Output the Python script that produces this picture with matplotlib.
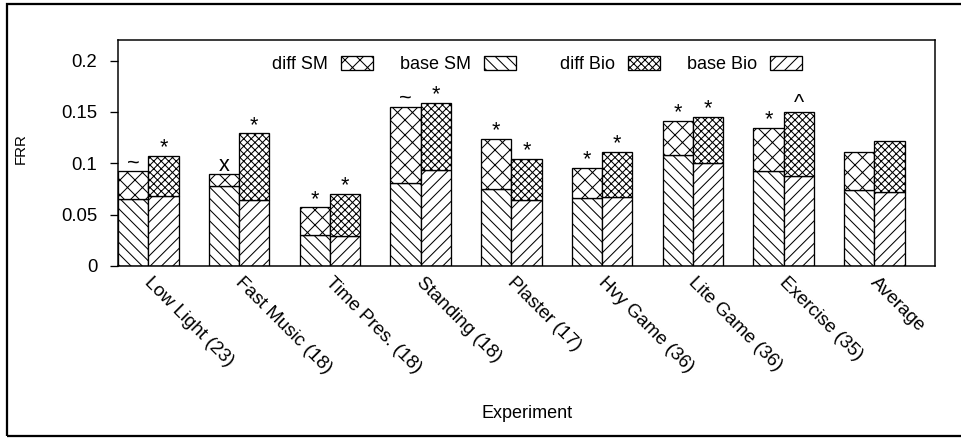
import matplotlib
matplotlib.use('Agg')
import matplotlib.pyplot as plt
import numpy as np
from matplotlib.patches import Rectangle, Patch

plt.rcParams['font.family'] = ['Liberation Sans', 'DejaVu Sans']
plt.rcParams['hatch.linewidth'] = 0.55

experiments = ['Low Light (23)', 'Fast Music (18)', 'Time Pres. (18)', 'Standing (18)',
               'Plaster (17)', 'Hvy Game (36)', 'Lite Game (36)', 'Exercise (35)', 'Average']
base_sm = [0.065, 0.078, 0.030, 0.081, 0.075, 0.066, 0.108, 0.092, 0.074]
total_sm = [0.092, 0.090, 0.057, 0.155, 0.124, 0.0955, 0.141, 0.134, 0.111]
base_bio = [0.068, 0.064, 0.029, 0.093, 0.064, 0.067, 0.100, 0.088, 0.072]
total_bio = [0.107, 0.129, 0.070, 0.159, 0.104, 0.111, 0.145, 0.150, 0.122]
marks_sm = ['~', 'x', '*', '~', '*', '*', '*', '*', '']
marks_bio = ['*', '*', '*', '*', '*', '*', '*', '^', '']

# dpi picked so the hatch spacing comes out like the gnuplot original
DPI = 135
fig = plt.figure(figsize=(961 / DPI, 441 / DPI), dpi=DPI)
ax = fig.add_axes([118 / 961, 1 - 266 / 441, (935 - 118) / 961, (266 - 40) / 441])

# outer frame around the whole picture
fig.patches.append(Rectangle((7 / 961, 1 - 436 / 441), 960 / 961, 432 / 441,
                             transform=fig.transFigure, fill=False,
                             edgecolor='black', linewidth=1.2))

n = len(experiments)
x = np.arange(n) * 3
base_sm = np.array(base_sm)
base_bio = np.array(base_bio)
diff_sm = np.array(total_sm) - base_sm
diff_bio = np.array(total_bio) - base_bio

H_BASE_SM, H_BASE_BIO, H_DIFF_SM, H_DIFF_BIO = '\\' * 4, '/' * 4, 'xxx', 'x' * 6

kw = dict(width=1, align='edge', color='white', edgecolor='black', linewidth=0.7)
ax.bar(x, base_sm, hatch=H_BASE_SM, **kw)
ax.bar(x, diff_sm, bottom=base_sm, hatch=H_DIFF_SM, **kw)
ax.bar(x + 1, base_bio, hatch=H_BASE_BIO, **kw)
ax.bar(x + 1, diff_bio, bottom=base_bio, hatch=H_DIFF_BIO, **kw)

for i in range(n):
    if marks_sm[i]:
        ax.annotate(marks_sm[i], (x[i] + 0.5, total_sm[i]), xytext=(0, -1.2),
                    textcoords='offset points', ha='center', va='bottom', fontsize=11.5)
    if marks_bio[i]:
        ax.annotate(marks_bio[i], (x[i] + 1.5, total_bio[i]), xytext=(0, -1.2),
                    textcoords='offset points', ha='center', va='bottom', fontsize=11.5)

ax.set_xlim(0, 3 * n)
ax.set_ylim(0, 0.22)
ax.set_yticks([0, 0.05, 0.1, 0.15, 0.2])
ax.set_yticklabels(['0', '0.05', '0.1', '0.15', '0.2'])
ax.tick_params(axis='y', direction='out', length=4.3, width=0.7, labelsize=9.9, pad=6.8)
ax.set_xticks(x + 1.15)
ax.set_xticklabels(experiments, rotation=-45, ha='left', va='top',
                   rotation_mode='anchor', fontsize=10)
ax.tick_params(axis='x', length=0, pad=4.5)
for s in ax.spines.values():
    s.set_linewidth(0.8)

fig.text(21 / 961, 1 - 149 / 441, 'FRR', rotation=90, ha='center', va='center', fontsize=8)
fig.text(527 / 961, 1 - 414 / 441, 'Experiment', ha='center', va='center', fontsize=9.6)


def hatch_patch(h, label):
    return Patch(facecolor='white', edgecolor='black', linewidth=0.7, hatch=h, label=label)


leg_kw = dict(loc='center', ncol=2, frameon=False, markerfirst=False, fontsize=9.6,
              handlelength=1.78, handleheight=0.83, handletextpad=0.72, columnspacing=1.5)
fig.legend(handles=[hatch_patch(H_DIFF_SM, 'diff SM'), hatch_patch(H_BASE_SM, 'base SM')],
           bbox_to_anchor=(394 / 961, 1 - 64.5 / 441), **leg_kw)
fig.legend(handles=[hatch_patch(H_DIFF_BIO, 'diff Bio'), hatch_patch(H_BASE_BIO, 'base Bio')],
           bbox_to_anchor=(681 / 961, 1 - 64.5 / 441), **leg_kw)

fig.savefig('out.png', dpi=DPI)
